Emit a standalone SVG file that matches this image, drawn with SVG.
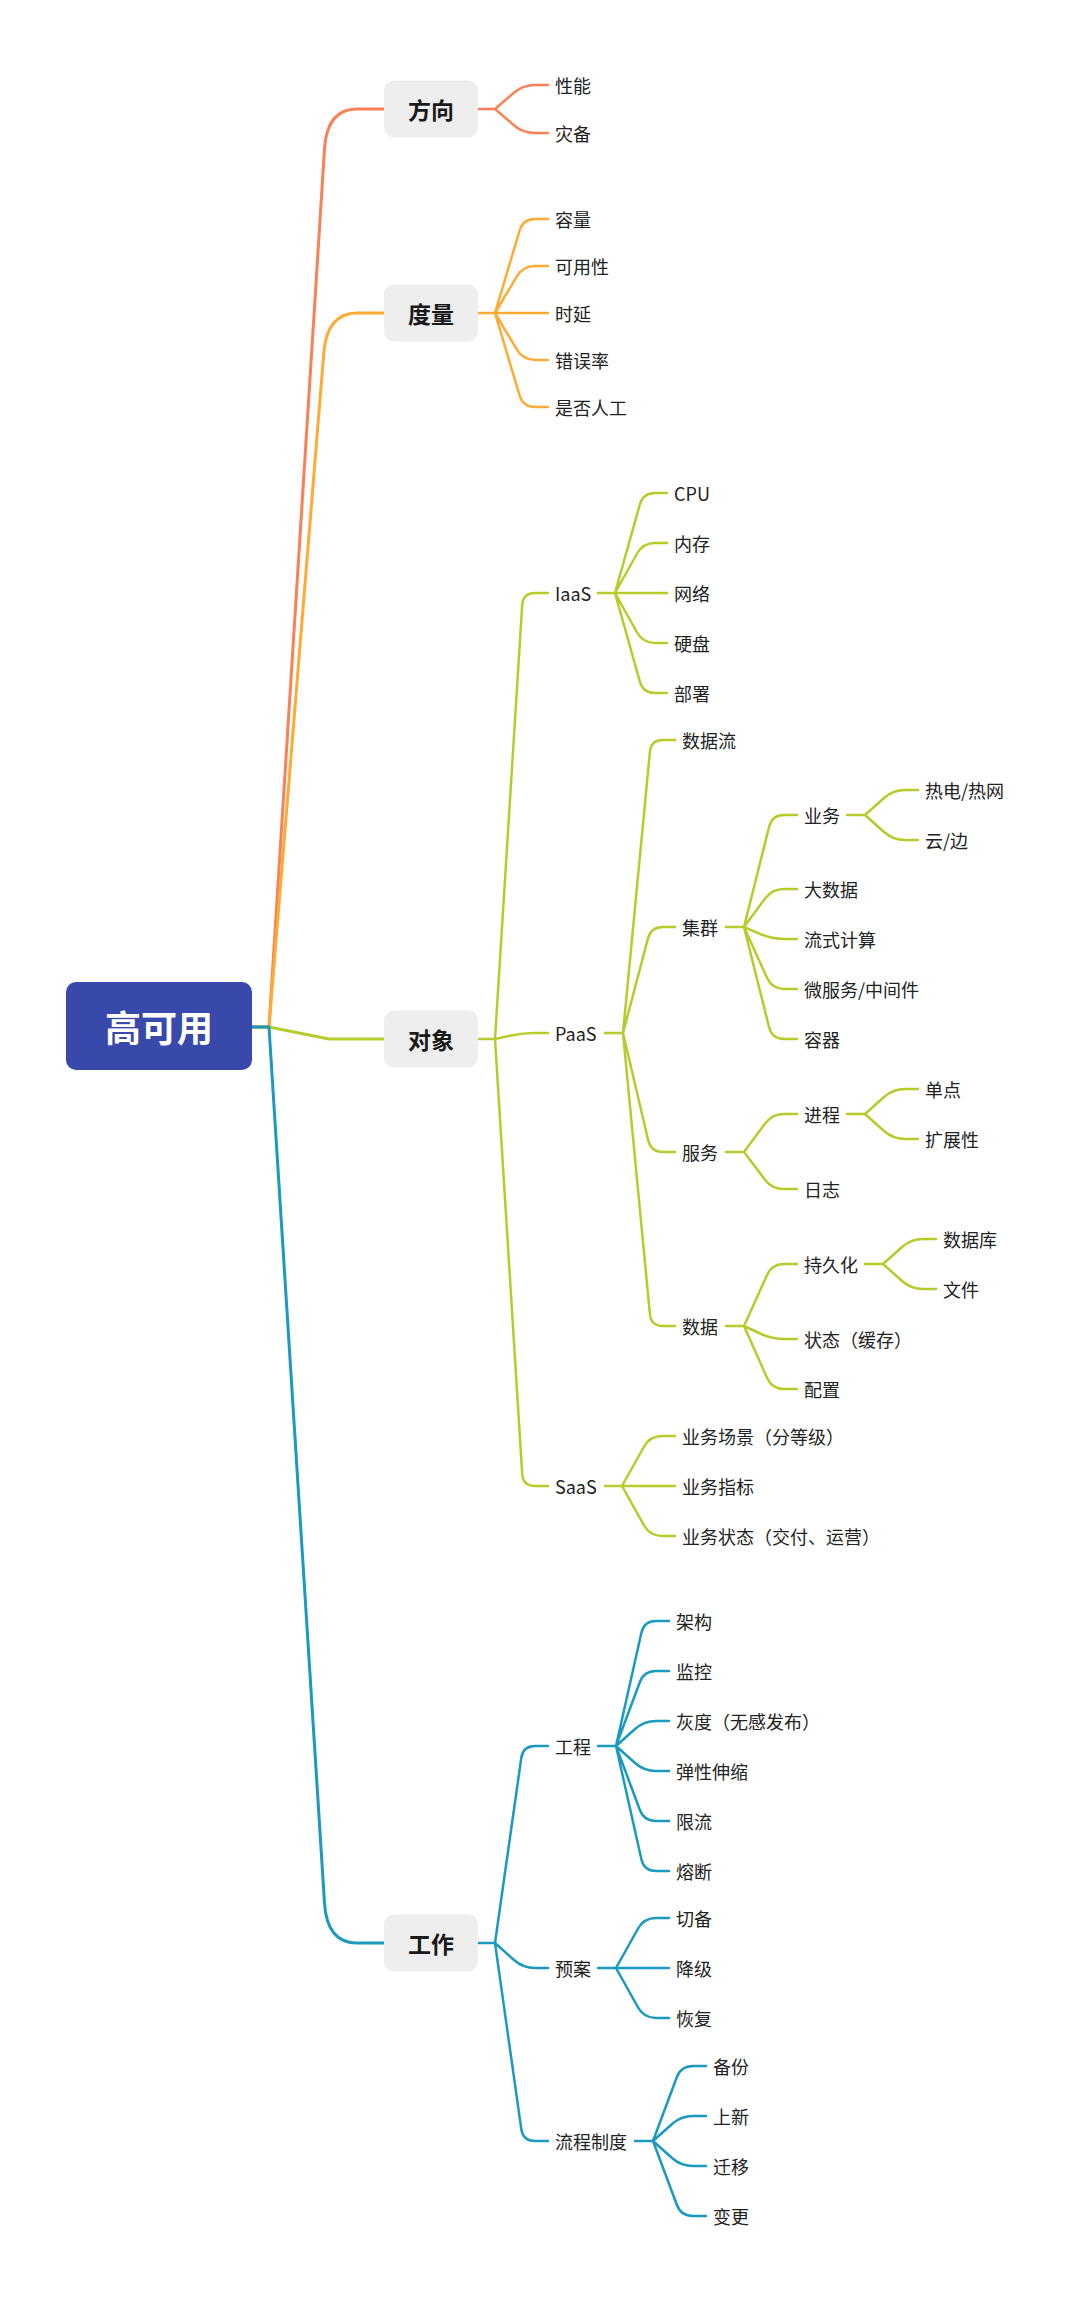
<svg xmlns="http://www.w3.org/2000/svg" width="1080" height="2301" viewBox="0 0 1080 2301">
<style>
.t{font-family:"Noto Sans CJK SC","Noto Sans",sans-serif;font-size:18px;fill:#222;dominant-baseline:central}
.t1{font-family:"Noto Sans CJK SC","Noto Sans",sans-serif;font-size:23px;font-weight:bold;fill:#1a1a1a;text-anchor:middle;dominant-baseline:central}
.tr{font-family:"Noto Sans CJK SC","Noto Sans",sans-serif;font-size:36px;font-weight:bold;fill:#fff;text-anchor:middle;dominant-baseline:central}
.box{fill:#EEEEEE}
.c{fill:none;stroke-width:2.5;stroke-linecap:round;stroke-linejoin:round}
.m{stroke-width:3}
.o{stroke:#FA8155}.a{stroke:#FFAA33}.g{stroke:#B7CB2B}.b{stroke:#1A9ABF}
</style>
<rect width="1080" height="2301" fill="#fff"/>
<g id="connectors">
<path class="c m o" d="M252,1027 H269 L324.5,148.9 Q327,109 357,109 H384"/>
<path class="c m a" d="M252,1027 H269 L323.8,352.9 Q327,313 357,313 H384"/>
<path class="c m g" d="M252,1027 H269 L329,1039 H384"/>
<path class="c m b" d="M252,1027 H269 L324.5,1903.1 Q327,1943 357,1943 H384"/>
<path class="c o" d="M478,109 H495 M495,109 L513.9,92.8 Q523,85 535,85 H548 M495,109 L513.9,125.2 Q523,133 535,133 H548"/>
<path class="c a" d="M478,313 H548 M495,313 L519.6,230.5 Q523,219 535,219 H548 M495,313 L516.9,276.3 Q523,266 535,266 H548 M495,313 L516.9,349.7 Q523,360 535,360 H548 M495,313 L519.6,395.5 Q523,407 535,407 H548"/>
<path class="c g" d="M478,1039 H495 M495,1039 L522.2,605 Q523,593 535,593 H548 M495,1039 L511.3,1035.5 Q523,1033 535,1033 H548 M495,1039 L522.2,1474 Q523,1486 535,1486 H548"/>
<path class="c g" d="M598,593 H667 M615,593 L639.8,504.6 Q643,493 655,493 H667 M615,593 L637.1,553.5 Q643,543 655,543 H667 M615,593 L637.1,632.5 Q643,643 655,643 H667 M615,593 L639.8,681.4 Q643,693 655,693 H667"/>
<path class="c g" d="M605,1033 H623 M623,1033 L649.9,752 Q651,740 663,740 H675 M623,1033 L647.9,938.6 Q651,927 663,927 H675 M623,1033 L648.2,1140.3 Q651,1152 663,1152 H675 M623,1033 L649.9,1314 Q651,1326 663,1326 H675"/>
<path class="c g" d="M726,927 H744 M744,927 L769.1,826.7 Q772,815 784,815 H797 M744,927 L764.9,898.7 Q772,889 784,889 H797 M744,927 L761,934.3 Q772,939 784,939 H797 M744,927 L767.1,978.1 Q772,989 784,989 H797 M744,927 L769.1,1027.3 Q772,1039 784,1039 H797"/>
<path class="c g" d="M847,815 H865 M865,815 L884.05,798 Q893,790 905,790 H918 M865,815 L884.05,832 Q893,840 905,840 H918"/>
<path class="c g" d="M726,1152 H744 M744,1152 L764.9,1123.7 Q772,1114 784,1114 H797 M744,1152 L764.8,1179.4 Q772,1189 784,1189 H797"/>
<path class="c g" d="M847,1114 H865 M865,1114 L884.05,1097 Q893,1089 905,1089 H918 M865,1114 L884.05,1131 Q893,1139 905,1139 H918"/>
<path class="c g" d="M726,1326 H744 M744,1326 L767.1,1274.9 Q772,1264 784,1264 H797 M744,1326 L761.1,1334 Q772,1339 784,1339 H797 M744,1326 L767.1,1378 Q772,1389 784,1389 H797"/>
<path class="c g" d="M865,1264 H883 M883,1264 L902.05,1247 Q911,1239 923,1239 H936 M883,1264 L902.05,1281 Q911,1289 923,1289 H936"/>
<path class="c g" d="M605,1486 H675 M622,1486 L644.1,1446.5 Q650,1436 662,1436 H675 M622,1486 L644.1,1525.5 Q650,1536 662,1536 H675"/>
<path class="c b" d="M478,1943 H495 M495,1943 L521.3,1757.9 Q523,1746 535,1746 H548 M495,1943 L514.05,1960 Q523,1968 535,1968 H548 M495,1943 L521.3,2129.1 Q523,2141 535,2141 H548"/>
<path class="c b" d="M598,1746 H616 M616,1746 L641.4,1632.7 Q644,1621 656,1621 H669 M616,1746 L639.8,1682.2 Q644,1671 656,1671 H669 M616,1746 L635.05,1729 Q644,1721 656,1721 H669 M616,1746 L635.05,1763 Q644,1771 656,1771 H669 M616,1746 L639.8,1809.8 Q644,1821 656,1821 H669 M616,1746 L641.4,1859.3 Q644,1871 656,1871 H669"/>
<path class="c b" d="M598,1968 H669 M616,1968 L638.1,1928.5 Q644,1918 656,1918 H669 M616,1968 L638.1,2007.5 Q644,2018 656,2018 H669"/>
<path class="c b" d="M635,2141 H653 M653,2141 L676.8,2077.2 Q681,2066 693,2066 H706 M653,2141 L672.05,2124 Q681,2116 693,2116 H706 M653,2141 L672.05,2158 Q681,2166 693,2166 H706 M653,2141 L676.8,2204.8 Q681,2216 693,2216 H706"/>
</g>
<g id="root"><rect x="66" y="982" width="186" height="88" rx="10" fill="#3949AB"/><text class="tr" x="159" y="1026">高可用</text></g>
<g id="n-fangxiang"><rect class="box" x="384" y="80.5" width="94" height="57" rx="10"/><text class="t1" x="431" y="109">方向</text></g>
<g id="n-duliang"><rect class="box" x="384" y="284.5" width="94" height="57" rx="10"/><text class="t1" x="431" y="313">度量</text></g>
<g id="n-duixiang"><rect class="box" x="384" y="1010.5" width="94" height="57" rx="10"/><text class="t1" x="431" y="1039">对象</text></g>
<g id="n-gongzuo"><rect class="box" x="384" y="1914.5" width="94" height="57" rx="10"/><text class="t1" x="431" y="1943">工作</text></g>
<g id="n-xingneng"><text class="t" x="555" y="85">性能</text></g>
<g id="n-zaibei"><text class="t" x="555" y="133">灾备</text></g>
<g id="n-rongliang"><text class="t" x="555" y="219">容量</text></g>
<g id="n-keyongxing"><text class="t" x="555" y="266">可用性</text></g>
<g id="n-shiyan"><text class="t" x="555" y="313">时延</text></g>
<g id="n-cuowulv"><text class="t" x="555" y="360">错误率</text></g>
<g id="n-shifourengong"><text class="t" x="555" y="407">是否人工</text></g>
<g id="n-iaas"><text class="t" x="555" y="593">IaaS</text></g>
<g id="n-cpu"><text class="t" x="674" y="493">CPU</text></g>
<g id="n-neicun"><text class="t" x="674" y="543">内存</text></g>
<g id="n-wangluo"><text class="t" x="674" y="593">网络</text></g>
<g id="n-yingpan"><text class="t" x="674" y="643">硬盘</text></g>
<g id="n-bushu"><text class="t" x="674" y="693">部署</text></g>
<g id="n-paas"><text class="t" x="555" y="1033">PaaS</text></g>
<g id="n-shujuliu"><text class="t" x="682" y="740">数据流</text></g>
<g id="n-jiqun"><text class="t" x="682" y="927">集群</text></g>
<g id="n-yewu"><text class="t" x="804" y="815">业务</text></g>
<g id="n-redian"><text class="t" x="925" y="790">热电/热网</text></g>
<g id="n-yunbian"><text class="t" x="925" y="840">云/边</text></g>
<g id="n-dashuju"><text class="t" x="804" y="889">大数据</text></g>
<g id="n-liushi"><text class="t" x="804" y="939">流式计算</text></g>
<g id="n-weifuwu"><text class="t" x="804" y="989">微服务/中间件</text></g>
<g id="n-rongqi"><text class="t" x="804" y="1039">容器</text></g>
<g id="n-fuwu"><text class="t" x="682" y="1152">服务</text></g>
<g id="n-jincheng"><text class="t" x="804" y="1114">进程</text></g>
<g id="n-dandian"><text class="t" x="925" y="1089">单点</text></g>
<g id="n-kuozhan"><text class="t" x="925" y="1139">扩展性</text></g>
<g id="n-rizhi"><text class="t" x="804" y="1189">日志</text></g>
<g id="n-shuju"><text class="t" x="682" y="1326">数据</text></g>
<g id="n-chijiuhua"><text class="t" x="804" y="1264">持久化</text></g>
<g id="n-shujuku"><text class="t" x="943" y="1239">数据库</text></g>
<g id="n-wenjian"><text class="t" x="943" y="1289">文件</text></g>
<g id="n-zhuangtai"><text class="t" x="804" y="1339">状态（缓存）</text></g>
<g id="n-peizhi"><text class="t" x="804" y="1389">配置</text></g>
<g id="n-saas"><text class="t" x="555" y="1486">SaaS</text></g>
<g id="n-yewuchangjing"><text class="t" x="682" y="1436">业务场景（分等级）</text></g>
<g id="n-yewuzhibiao"><text class="t" x="682" y="1486">业务指标</text></g>
<g id="n-yewuzhuangtai"><text class="t" x="682" y="1536">业务状态（交付、运营）</text></g>
<g id="n-gongcheng"><text class="t" x="555" y="1746">工程</text></g>
<g id="n-jiagou"><text class="t" x="676" y="1621">架构</text></g>
<g id="n-jiankong"><text class="t" x="676" y="1671">监控</text></g>
<g id="n-huidu"><text class="t" x="676" y="1721">灰度（无感发布）</text></g>
<g id="n-tanxing"><text class="t" x="676" y="1771">弹性伸缩</text></g>
<g id="n-xianliu"><text class="t" x="676" y="1821">限流</text></g>
<g id="n-rongduan"><text class="t" x="676" y="1871">熔断</text></g>
<g id="n-yuan"><text class="t" x="555" y="1968">预案</text></g>
<g id="n-qiebei"><text class="t" x="676" y="1918">切备</text></g>
<g id="n-jiangji"><text class="t" x="676" y="1968">降级</text></g>
<g id="n-huifu"><text class="t" x="676" y="2018">恢复</text></g>
<g id="n-liucheng"><text class="t" x="555" y="2141">流程制度</text></g>
<g id="n-beifen"><text class="t" x="713" y="2066">备份</text></g>
<g id="n-shangxin"><text class="t" x="713" y="2116">上新</text></g>
<g id="n-qianyi"><text class="t" x="713" y="2166">迁移</text></g>
<g id="n-biangeng"><text class="t" x="713" y="2216">变更</text></g>
</svg>
